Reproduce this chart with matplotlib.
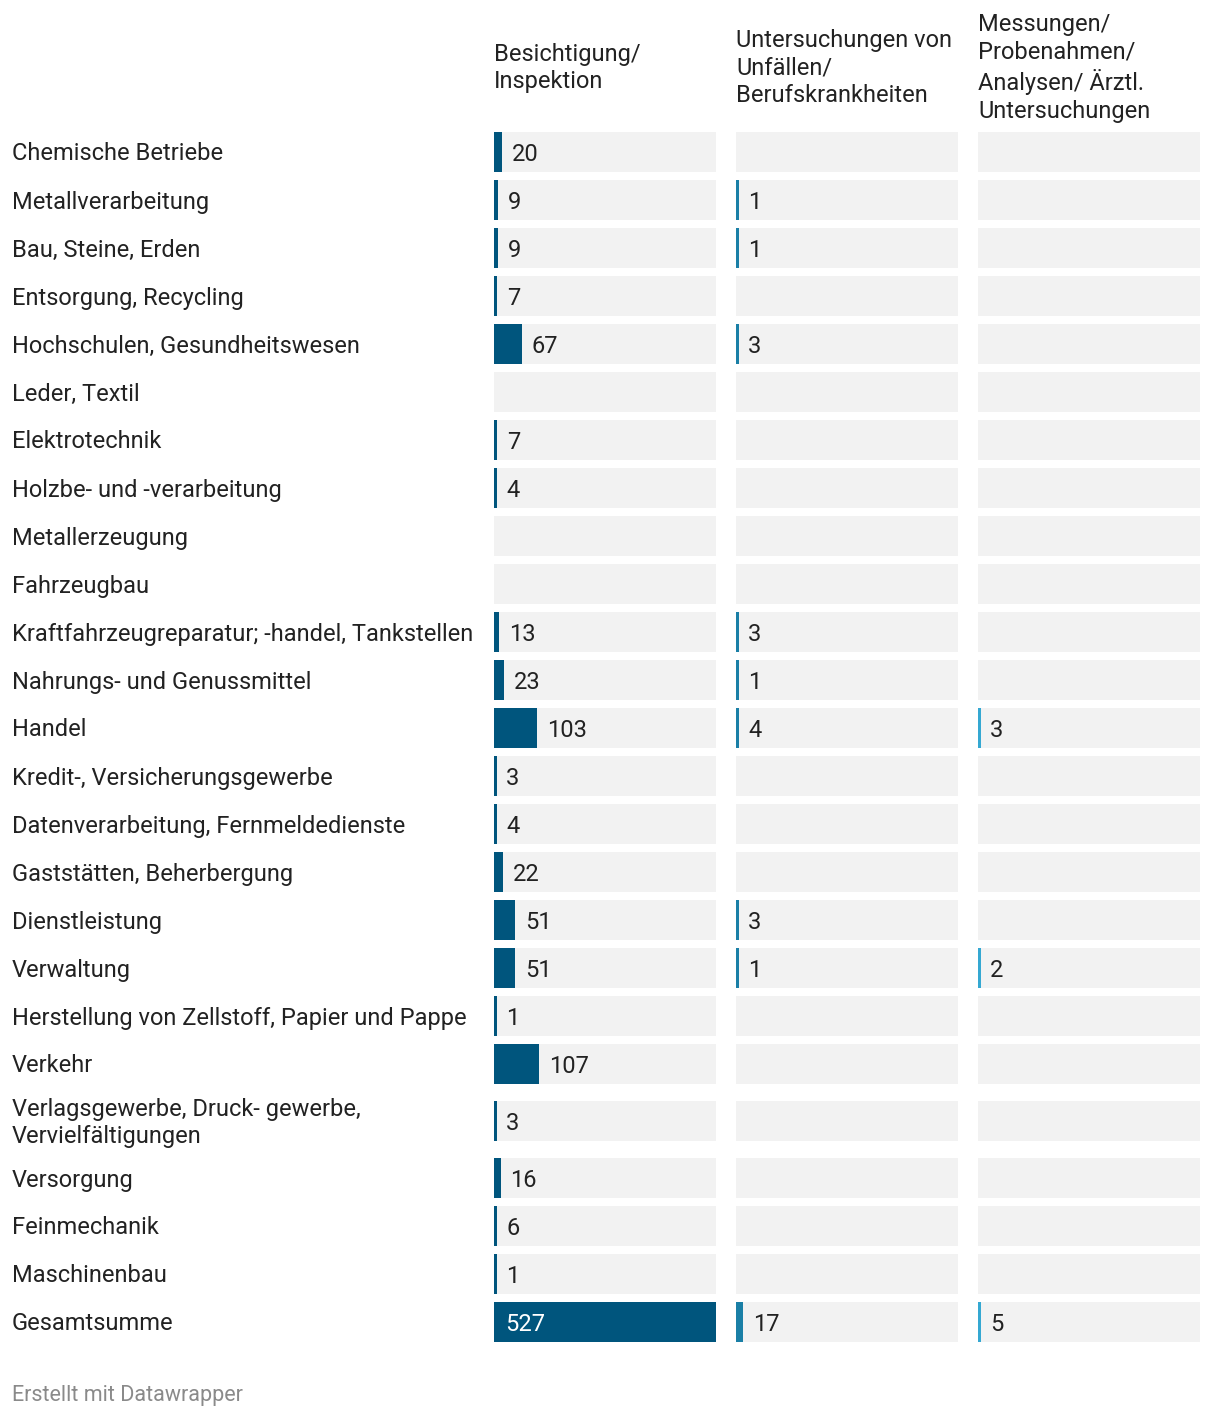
import numpy as np
import matplotlib
matplotlib.use('Agg')
import matplotlib.pyplot as plt
from matplotlib.transforms import blended_transform_factory

plt.rcParams['font.family'] = ['Roboto', 'DejaVu Sans']

categories = ['Chemische Betriebe', 'Metallverarbeitung', 'Bau, Steine, Erden',
              'Entsorgung, Recycling', 'Hochschulen, Gesundheitswesen', 'Leder, Textil',
              'Elektrotechnik', 'Holzbe- und -verarbeitung', 'Metallerzeugung', 'Fahrzeugbau',
              'Kraftfahrzeugreparatur; -handel, Tankstellen', 'Nahrungs- und Genussmittel',
              'Handel', 'Kredit-, Versicherungsgewerbe', 'Datenverarbeitung, Fernmeldedienste',
              'Gaststätten, Beherbergung', 'Dienstleistung', 'Verwaltung',
              'Herstellung von Zellstoff, Papier und Pappe', 'Verkehr',
              'Verlagsgewerbe, Druck- gewerbe,\nVervielfältigungen', 'Versorgung',
              'Feinmechanik', 'Maschinenbau', 'Gesamtsumme']
columns = ['Besichtigung/\nInspektion',
           'Untersuchungen von\nUnfällen/\nBerufskrankheiten',
           'Messungen/\nProbenahmen/\nAnalysen/ Ärztl.\nUntersuchungen']
besichtigung = [20, 9, 9, 7, 67, None, 7, 4, None, None, 13, 23, 103, 3, 4, 22, 51, 51, 1, 107, 3, 16, 6, 1, 527]
unfaelle = [None, 1, 1, None, 3, None, None, None, None, None, 3, 1, 4, None, None, None, 3, 1,
            None, None, None, None, None, None, 17]
messungen = [None] * 12 + [3] + [None] * 4 + [2] + [None] * 6 + [5]
series = [besichtigung, unfaelle, messungen]
colors = ['#00557d', '#1a7fa6', '#35a8d2']

W, H = 1220, 1418
fig = plt.figure(figsize=(W / 100, H / 100), dpi=100)

# row heights in pixels (two-line label gets a taller row)
heights = np.array([66 if '\n' in c else 48 for c in categories], dtype=float)
centers = np.cumsum(heights) - heights / 2
total = heights.sum()
top_px = 128
vmax = max(v for s in series for v in s if v is not None)
col_w = 222
min_w = 2.5 / col_w * vmax
fs = 17

for i, (vals, col, name) in enumerate(zip(series, colors, columns)):
    left = 494 + 242 * i
    ax = fig.add_axes([left / W, 1 - (top_px + total) / H, col_w / W, total / H])
    ax.set_xlim(0, vmax)
    ax.set_ylim(total, 0)
    ax.axis('off')
    ax.barh(centers, [vmax] * len(categories), height=40, color='#f2f2f2')
    for y, v in zip(centers, vals):
        if v is None:
            continue
        w = max(v, min_w)
        ax.barh(y, w, height=40, color=col)
        if v == vmax:
            ax.annotate(str(v), xy=(0, y), xytext=(8, -1.5), textcoords='offset points',
                        ha='left', va='center', fontsize=fs, color='white')
        else:
            ax.annotate(str(v), xy=(w, y), xytext=(7, -1.5), textcoords='offset points',
                        ha='left', va='center', fontsize=fs, color='#222222')
    fig.text(left / W, 1 - 68 / H, name, ha='left', va='center', fontsize=fs,
             color='#222222', linespacing=1.25)
    if i == 0:
        tr = blended_transform_factory(fig.transFigure, ax.transData)
        for y, c in zip(centers, categories):
            ax.text(12 / W, y + 2, c, transform=tr, ha='left', va='center', fontsize=fs,
                    color='#222222', linespacing=1.25)

fig.text(12 / W, 1 - 1395 / H, 'Erstellt mit Datawrapper', ha='left', va='center',
         fontsize=15.5, color='#8a8a8a')

fig.savefig('out.png', dpi=100, facecolor='white')
